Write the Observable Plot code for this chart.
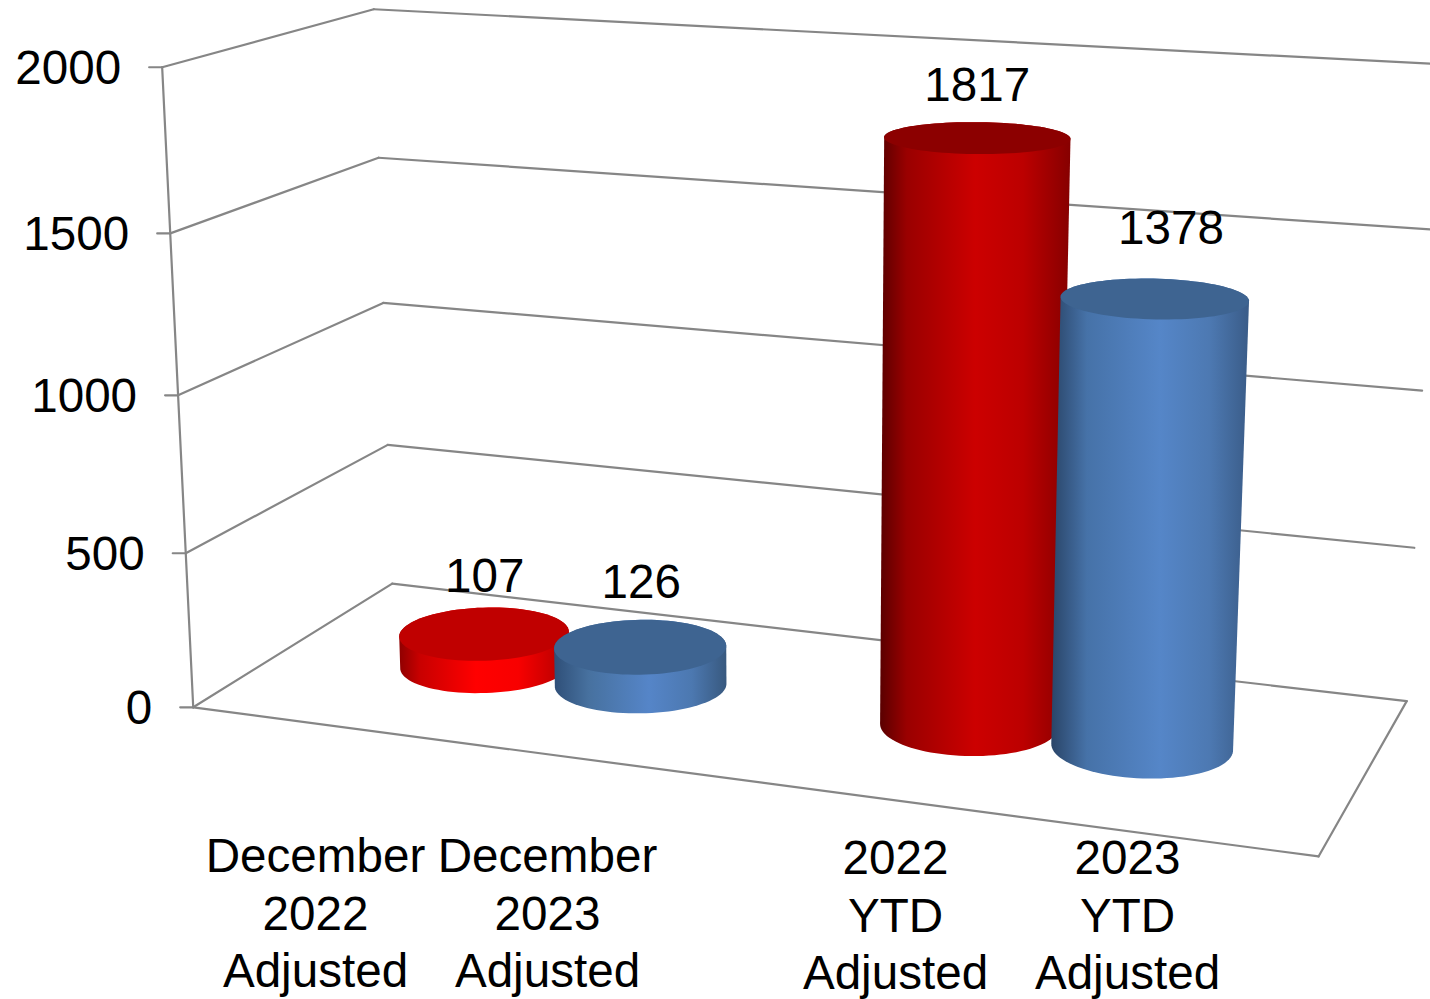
<!DOCTYPE html>
<html>
<head>
<meta charset="utf-8">
<title>Adjusted totals</title>
<style>
html, body { margin: 0; padding: 0; background: #fff; overflow: hidden; }
svg { display: block; }
</style>
<script src="https://cdn.jsdelivr.net/npm/d3@7"></script>
<script src="https://cdn.jsdelivr.net/npm/@observablehq/plot@0.6"></script>
</head>
<body>
<div id="chart"></div>
<script>
// Values
const categories = ["December\n2022\nAdjusted", "December\n2023\nAdjusted", "2022\nYTD\nAdjusted", "2023\nYTD\nAdjusted"];
const values = [107, 126, 1817, 1378];
const valueTicks = [0, 500, 1000, 1500, 2000];
const valueMax = 2000;

// Layout: category slots along the floor (the gap is an empty category)
const barSlots = [0, 1, 3, 4];
const labelSlots = [0, 1, 2.5, 3.5];
const labelRows = [872, 872, 874, 874];
const valueLabelShift = [[0.5, -42], [1, -49], [0, -37], [16.5, -54]];
const barStyles = ["redLow", "blueLow", "redTall", "blueTall"];
const topColors = ["#c00000", "#3e6491", "#8c0000", "#3e6491"];

// Corners of the drawn 3D box, as [width, depth, height] -> screen position.
// A projective camera is fitted to them so every mark shares one perspective.
const calibration = [
  [0, 0, 0, 193, 707], [0, 0, .25, 185, 553], [0, 0, .5, 177, 394], [0, 0, .75, 170, 233], [0, 0, 1, 162, 67],
  [0, 1, 0, 392, 583], [0, 1, .25, 387, 445], [0, 1, .5, 383, 302], [0, 1, .75, 378, 157], [0, 1, 1, 373, 9],
  [1, 1, 0, 1405, 700], [1, 1, .25, 1415, 548], [1, 1, .5, 1422, 390], [1, 1, .75, 1430, 229], [1, 1, 1, 1437, 63.5],
  [1, 0, 0, 1318, 856]
];

function fitCamera(rows) {
  const n = 11, A = Array.from({length: n}, () => new Array(n + 1).fill(0));
  const add = (r, t) => {
    for (let i = 0; i < n; i++) {
      for (let j = 0; j < n; j++) A[i][j] += r[i] * r[j];
      A[i][n] += r[i] * t;
    }
  };
  for (const [u, d, h, px, py] of rows) {
    const x = px / 1000, y = py / 1000;
    add([u, d, h, 1, 0, 0, 0, 0, -x * u, -x * d, -x * h], x);
    add([0, 0, 0, 0, u, d, h, 1, -y * u, -y * d, -y * h], y);
  }
  for (let c = 0; c < n; c++) {
    let best = c;
    for (let r = c + 1; r < n; r++) if (Math.abs(A[r][c]) > Math.abs(A[best][c])) best = r;
    [A[c], A[best]] = [A[best], A[c]];
    for (let r = 0; r < n; r++) {
      if (r === c) continue;
      const f = A[r][c] / A[c][c];
      for (let k = c; k <= n; k++) A[r][k] -= f * A[c][k];
    }
  }
  return A.map((row, i) => row[n] / row[i]);
}

const cam = fitCamera(calibration);
function project(u, d, h) {
  const w = cam[8] * u + cam[9] * d + cam[10] * h + 1;
  return [
    1000 * (cam[0] * u + cam[1] * d + cam[2] * h + cam[3]) / w,
    1000 * (cam[4] * u + cam[5] * d + cam[6] * h + cam[7]) / w
  ];
}
const toHeight = v => v / valueMax;

// Cylinder footprint in box units
const slotU = s => 0.192 + 0.1542 * s;
const depthMid = 0.5, radiusU = 0.077, radiusD = 0.2;
const angles = d3.range(0, 2 * Math.PI, Math.PI / 48);
const disc = (u, h) => angles.map(a => project(u + radiusU * Math.cos(a), depthMid + radiusD * Math.sin(a), h));

const cylinders = values.map((v, i) => {
  const u = slotU(barSlots[i]), h = toHeight(v);
  return {
    side: d3.polygonHull([...disc(u, 0), ...disc(u, h)]),
    top: disc(u, h),
    labelAt: project(u, depthMid, h),
    i
  };
});

// Wall and floor rules
const segment = (a, b) => [project(...a), project(...b)];
const rules = [
  segment([0, 0, 0], [0, 0, 1]),
  segment([0, 0, 0], [1, 0, 0]),
  segment([1, 0, 0], [1, 1, 0]),
  ...valueTicks.flatMap(v => {
    const h = toHeight(v);
    const tickEnd = project(0, 0, h);
    return [
      [[tickEnd[0] - 13, tickEnd[1]], tickEnd],
      segment([0, 0, h], [0, 1, h]),
      segment([0, 1, h], [1, 1, h])
    ];
  })
];

const gradients = {
  redLow: [["0", "#8f0000"], ["0.12", "#c80000"], ["0.45", "#ff0000"], ["0.7", "#f80000"], ["1", "#b00000"]],
  redTall: [["0", "#5a0000"], ["0.14", "#9a0000"], ["0.5", "#cc0000"], ["0.75", "#bc0000"], ["1", "#860000"]],
  blueLow: [["0", "#2f4f78"], ["0.2", "#47719f"], ["0.55", "#5585c8"], ["0.8", "#4c78b0"], ["1", "#38597f"]],
  blueTall: [["0", "#2a4568"], ["0.18", "#4672a8"], ["0.55", "#5586c8"], ["0.8", "#4d79b2"], ["1", "#3a5c88"]]
};
function gradientDefs() {
  const defs = d3.create("svg:defs");
  for (const [id, stops] of Object.entries(gradients)) {
    const g = defs.append("linearGradient").attr("id", id).attr("x1", 0).attr("x2", 1).attr("y1", 0).attr("y2", 0);
    for (const [offset, color] of stops) g.append("stop").attr("offset", offset).attr("stop-color", color);
  }
  return defs.node();
}

const textStyle = {fontFamily: "Liberation Sans, Arial, sans-serif", fontSize: 47.6, fill: "#000"};
const slab = () => ({x: p => p[0], y: p => p[1]});

const chart = Plot.plot({
  width: 1430,
  height: 999,
  margin: 0,
  style: {background: "#fff"},
  x: {domain: [0, 1430], range: [0, 1430], axis: null},
  y: {domain: [0, 999], range: [0, 999], axis: null},
  marks: [
    gradientDefs,
    // rules behind the cylinders
    ...rules.map(r => Plot.line(r, {...slab(), stroke: "#868686", strokeWidth: 2.2})),
    // cylinders, left to right so each overlaps the previous one
    ...cylinders.flatMap(c => [
      Plot.line(c.side, {...slab(), curve: "linear-closed", fill: `url(#${barStyles[c.i]})`, stroke: "none"}),
      Plot.line(c.top, {...slab(), curve: "linear-closed", fill: topColors[c.i], stroke: "none"})
    ]),
    // value axis labels
    Plot.text(valueTicks, {
      x: v => project(0, 0, toHeight(v))[0] - 41,
      y: v => project(0, 0, toHeight(v))[1] + 1.5,
      text: v => String(v),
      textAnchor: "end",
      lineAnchor: "middle",
      ...textStyle
    }),
    // value labels above the cylinders
    Plot.text(cylinders, {
      x: c => c.labelAt[0] + valueLabelShift[c.i][0],
      y: c => c.labelAt[1] + valueLabelShift[c.i][1],
      text: c => String(values[c.i]),
      textAnchor: "middle",
      lineAnchor: "bottom",
      ...textStyle
    }),
    // category labels
    Plot.text(categories, {
      x: (d, i) => 315 + 232 * labelSlots[i],
      y: (d, i) => labelRows[i] - 41,
      text: d => d,
      textAnchor: "middle",
      lineAnchor: "top",
      lineHeight: 1.205,
      ...textStyle
    })
  ]
});
document.getElementById("chart").append(chart);
</script>
</body>
</html>
